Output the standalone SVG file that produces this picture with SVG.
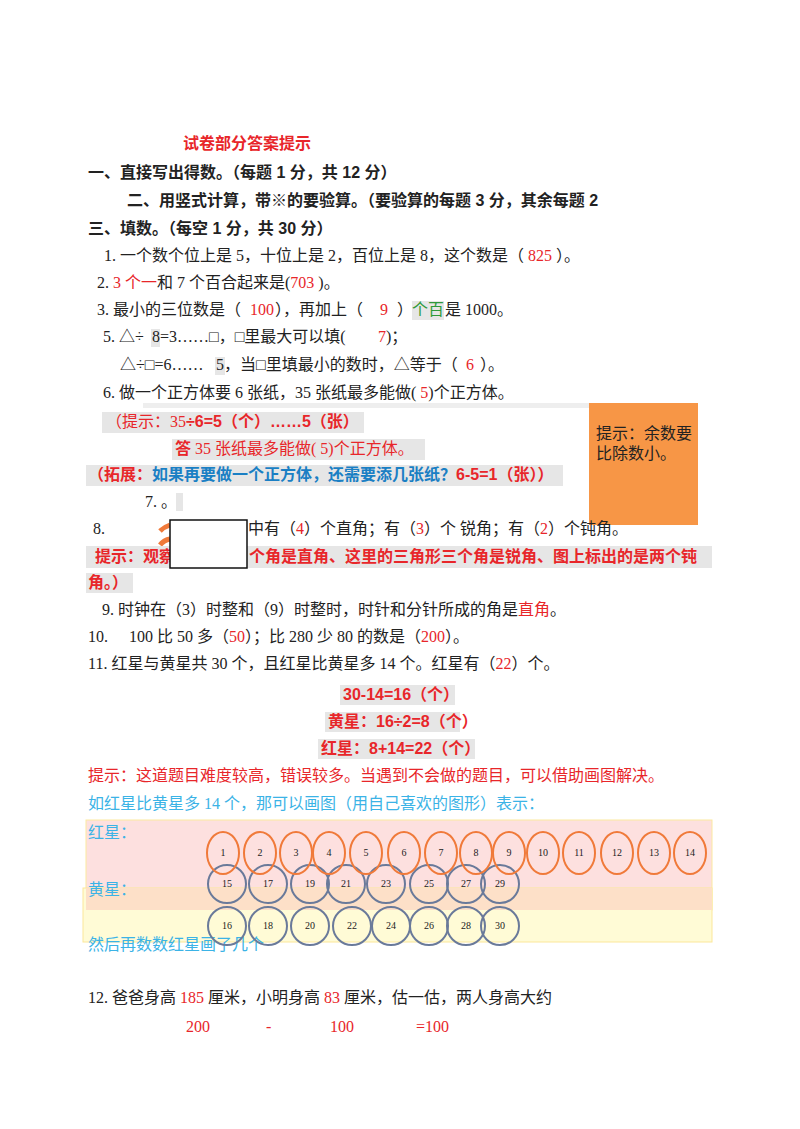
<svg xmlns="http://www.w3.org/2000/svg" width="800" height="1129" viewBox="0 0 800 1129">
<style>
text{font-family:"Liberation Serif","Noto Sans CJK SC",serif;font-size:16px;fill:#222}
.b{font-family:"Liberation Sans","Noto Sans CJK SC",sans-serif;font-weight:bold}
.r{fill:#e8262a}.g{fill:#2e9a3a}.bl{fill:#1a7fc4}.cy{fill:#3bb3e6}
.gb{fill:#e6e6e6}
.o{fill:none;stroke:#f07a3a;stroke-width:2}
.p{fill:none;stroke:#6a7a9a;stroke-width:2}
.n{font-size:10px;text-anchor:middle;fill:#222}
</style>
<rect width="800" height="1129" fill="#fff"/>
<g id="header">
<text x="183" y="149" class="b r">试卷部分答案提示</text>
<text x="88" y="178" class="b">一、直接写出得数。（每题 1 分，共 12 分）</text>
<text x="127" y="206" class="b">二、用竖式计算，带※的要验算。（要验算的每题 3 分，其余每题 2</text>
<text x="88" y="234" class="b">三、填数。（每空 1 分，共 30 分）</text>
</g>
<g id="q1-6">
<text x="104" y="261">1. 一个数个位上是 5，十位上是 2，百位上是 8，这个数是（ <tspan class="r">825</tspan> ）。</text>
<text x="97" y="288">2.   <tspan class="r">3 个一</tspan>和 7 个百合起来是(<tspan class="r">703</tspan> )。</text>
<text x="97" y="315">3. 最小的三位数是（</text>
<text x="250" y="315" class="r">100</text><text x="275" y="315">），再加上（</text>
<text x="380" y="315" class="r">9</text><text x="397" y="315">）</text>
<rect x="412" y="301" width="32" height="19" class="gb"/>
<text x="412" y="315" class="g">个百</text><text x="445" y="315">是 1000。</text>
<text x="103" y="342">5. △÷</text>
<rect x="151" y="329" width="9" height="18" class="gb"/>
<text x="152" y="342">8=3……□，□里最大可以填(</text>
<text x="378" y="342" class="r">7</text><text x="386" y="342">)；</text>
<text x="120" y="370">△÷□=6……</text>
<rect x="215" y="357" width="10" height="18" class="gb"/>
<text x="216" y="370">5，当□里填最小的数时，△等于（</text>
<text x="466" y="370" class="r">6</text><text x="480" y="370">）。</text>
<text x="103" y="398">6. 做一个正方体要 6 张纸，35 张纸最多能做( <tspan class="r">5</tspan>)个正方体。</text>
<rect x="143" y="403" width="545" height="5" fill="#eeeeee"/>
</g>
<g id="q6-hints">
<rect x="102" y="412" width="262" height="21" class="gb"/>
<text x="106" y="427" class="r">（提示：35<tspan class="b">÷6=5（个）……5（张）</tspan></text>
<rect x="172" y="439" width="253" height="21" class="gb"/>
<text x="175" y="454" class="r"><tspan class="b">答</tspan> 35 张纸最多能做( 5)个正方体。</text>
<rect x="86" y="465" width="477" height="21" class="gb"/>
<text x="88" y="480" class="b r">（拓展：<tspan class="bl">如果再要做一个正方体，还需要添几张纸？</tspan>6-5=1（张））</text>
</g>
<g id="note">
<rect x="589" y="403" width="109" height="122" fill="#f79646"/>
<text x="596" y="439">提示：余数要</text>
<text x="596" y="459">比除数小。</text>
</g>
<g id="q7-8">
<text x="145" y="507">7. 。</text>
<rect x="176" y="493" width="7" height="18" class="gb"/>
<text x="93" y="534">8.</text>
<text x="248" y="534">中有（<tspan class="r">4</tspan>）个直角；有（<tspan class="r">3</tspan>）个 锐角；有（<tspan class="r">2</tspan>）个钝角。</text>
<path d="M160 531 Q164 527 170 525 M160 545 Q164 540 170 539" stroke="#f07a3a" stroke-width="5" fill="none"/>
<rect x="86" y="546" width="626" height="22" class="gb"/>
<rect x="86" y="573" width="47" height="20" class="gb"/>
<text x="95" y="562" class="b r">提示：观察这</text>
<text x="249" y="562" class="b r">个角是直角、这里的三角形三个角是锐角、图上标出的是两个钝</text>
<text x="88" y="588" class="b r">角。）</text>
<rect x="170" y="520" width="77" height="48" fill="#fff" stroke="#111" stroke-width="1.5"/>
</g>
<g id="q9-11">
<text x="102" y="615">9. 时钟在（3）时整和（9）时整时，时针和分针所成的角是<tspan class="r">直角</tspan>。</text>
<text x="88" y="642">10.</text>
<text x="129" y="642">100 比 50 多（<tspan class="r">50</tspan>）；比 280 少 80 的数是（<tspan class="r">200</tspan>）。</text>
<text x="88" y="669">11. 红星与黄星共 30 个，且红星比黄星多 14 个。红星有（<tspan class="r">22</tspan>）个。</text>
<rect x="340" y="685" width="115" height="20" class="gb"/>
<text x="343" y="700" class="b r">30-14=16（个）</text>
<rect x="325" y="712" width="135" height="20" class="gb"/>
<text x="328" y="727" class="b r">黄星：16÷2=8（个）</text>
<rect x="318" y="739" width="157" height="20" class="gb"/>
<text x="321" y="754" class="b r">红星：8+14=22（个）</text>
<text x="88" y="781" class="r">提示：这道题目难度较高，错误较多。当遇到不会做的题目，可以借助画图解决。</text>
<text x="88" y="809" class="cy">如红星比黄星多 14 个，那可以画图（用自己喜欢的图形）表示：</text>
</g>
<g id="picture">
<rect x="86" y="820" width="626" height="90" fill="#fde0df" stroke="#fbe9a0" stroke-width="1"/>
<rect x="83" y="888" width="629" height="54" fill="#fffbd6" stroke="#fbe79a" stroke-width="1"/>
<rect x="86" y="888" width="626" height="22" fill="#fde0c8"/>
<text x="88" y="838" class="cy">红星：</text>
<text x="88" y="895" class="cy">黄星：</text>
<text x="88" y="950" class="cy">然后再数数红星画了几个</text>
<g id="yellow">
<circle cx="227" cy="884" r="19" class="p"/><text x="227" y="887" class="n">15</text>
<circle cx="268" cy="884" r="19" class="p"/><text x="268" y="887" class="n">17</text>
<circle cx="310" cy="884" r="19" class="p"/><text x="310" y="887" class="n">19</text>
<circle cx="346" cy="884" r="19" class="p"/><text x="346" y="887" class="n">21</text>
<circle cx="386" cy="884" r="19" class="p"/><text x="386" y="887" class="n">23</text>
<circle cx="429" cy="884" r="19" class="p"/><text x="429" y="887" class="n">25</text>
<circle cx="466" cy="884" r="19" class="p"/><text x="466" y="887" class="n">27</text>
<circle cx="500" cy="884" r="19" class="p"/><text x="500" y="887" class="n">29</text>
<circle cx="227" cy="926" r="19" class="p"/><text x="227" y="929" class="n">16</text>
<circle cx="268" cy="926" r="19" class="p"/><text x="268" y="929" class="n">18</text>
<circle cx="310" cy="926" r="19" class="p"/><text x="310" y="929" class="n">20</text>
<circle cx="352" cy="926" r="19" class="p"/><text x="352" y="929" class="n">22</text>
<circle cx="391" cy="926" r="19" class="p"/><text x="391" y="929" class="n">24</text>
<circle cx="429" cy="926" r="19" class="p"/><text x="429" y="929" class="n">26</text>
<circle cx="466" cy="926" r="19" class="p"/><text x="466" y="929" class="n">28</text>
<circle cx="500" cy="926" r="19" class="p"/><text x="500" y="929" class="n">30</text>
</g>
<g id="red">
<ellipse cx="223" cy="853" rx="16" ry="21" class="o"/><text x="223" y="856" class="n">1</text>
<ellipse cx="260" cy="853" rx="16" ry="21" class="o"/><text x="260" y="856" class="n">2</text>
<ellipse cx="296" cy="853" rx="16" ry="21" class="o"/><text x="296" y="856" class="n">3</text>
<ellipse cx="329" cy="853" rx="16" ry="21" class="o"/><text x="329" y="856" class="n">4</text>
<ellipse cx="366" cy="853" rx="16" ry="21" class="o"/><text x="366" y="856" class="n">5</text>
<ellipse cx="404" cy="853" rx="16" ry="21" class="o"/><text x="404" y="856" class="n">6</text>
<ellipse cx="441" cy="853" rx="16" ry="21" class="o"/><text x="441" y="856" class="n">7</text>
<ellipse cx="476" cy="853" rx="16" ry="21" class="o"/><text x="476" y="856" class="n">8</text>
<ellipse cx="509" cy="853" rx="16" ry="21" class="o"/><text x="509" y="856" class="n">9</text>
<ellipse cx="543" cy="853" rx="16" ry="21" class="o"/><text x="543" y="856" class="n">10</text>
<ellipse cx="579" cy="853" rx="16" ry="21" class="o"/><text x="579" y="856" class="n">11</text>
<ellipse cx="617" cy="853" rx="16" ry="21" class="o"/><text x="617" y="856" class="n">12</text>
<ellipse cx="654" cy="853" rx="16" ry="21" class="o"/><text x="654" y="856" class="n">13</text>
<ellipse cx="690" cy="853" rx="16" ry="21" class="o"/><text x="690" y="856" class="n">14</text>
</g>
</g>
<g id="q12">
<text x="88" y="1003">12. 爸爸身高 <tspan class="r">185</tspan> 厘米，小明身高 <tspan class="r">83</tspan> 厘米，估一估，两人身高大约</text>
<text x="186" y="1032" class="r">200</text>
<text x="266" y="1032" class="r">-</text>
<text x="330" y="1032" class="r">100</text>
<text x="416" y="1032" class="r">=100</text>
</g>
</svg>
